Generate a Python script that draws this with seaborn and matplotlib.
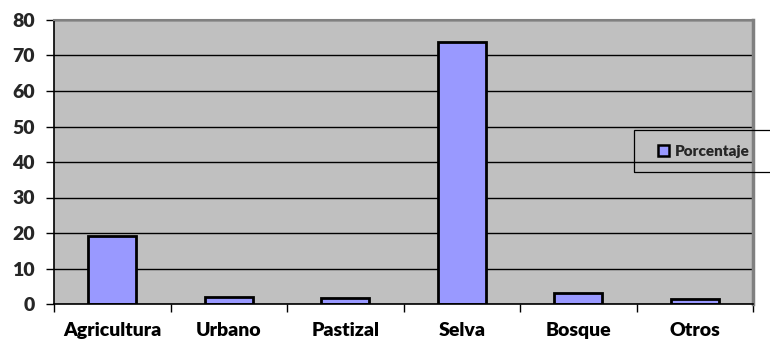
import matplotlib
matplotlib.use("Agg")
import matplotlib.pyplot as plt
from matplotlib.patches import Rectangle
import seaborn as sns
import pandas as pd
import numpy as np

categorias = ["Agricultura", "Urbano", "Pastizal", "Selva", "Bosque", "Otros"]
porcentaje = [19.1, 1.9, 1.6, 73.8, 3.0, 1.4]
ticks_y = [0, 10, 20, 30, 40, 50, 60, 70, 80]
serie = "Porcentaje"

df = pd.DataFrame({"categoria": categorias, "valor": porcentaje})

sns.set_theme(style="white")
plt.rcParams["font.family"] = ["Lato", "DejaVu Sans"]
plt.rcParams["font.weight"] = "bold"

W, H = 770, 342
fig = plt.figure(figsize=(W / 100, H / 100), dpi=100)
ax = fig.add_axes([54 / W, 1 - 304 / H, 699 / W, 284 / H])
ax.set_facecolor("#C0C0C0")

sns.barplot(data=df, x="categoria", y="valor", color="#9999FF",
            edgecolor="black", linewidth=2, width=0.41, saturation=1,
            label=serie, ax=ax)

ax.set_ylim(0, 80)
ax.set_xlim(-0.5, len(categorias) - 0.5)
ax.set_yticks(ticks_y)
ax.set_yticklabels([str(t) for t in ticks_y], fontsize=14, fontweight="heavy")
ax.set_xticks(range(len(categorias)))
ax.set_xticklabels(categorias, fontsize=14, fontweight="heavy")
ax.set_xticks(np.arange(-0.5, len(categorias), 1), minor=True)
ax.tick_params(axis="x", which="major", length=0, pad=13, colors="black")
ax.tick_params(axis="x", which="minor", length=6, width=1, direction="out", color="black", bottom=True)
ax.tick_params(axis="y", length=6, width=1, direction="out", color="black", left=True, pad=8)
ax.set_xlabel("")
ax.set_ylabel("")

ax.yaxis.grid(True, color="black", linewidth=1)
ax.set_axisbelow(True)

for side in ["left", "bottom"]:
    ax.spines[side].set_color("black")
    ax.spines[side].set_linewidth(1.2)
ax.spines["top"].set_color("#808080")
ax.spines["top"].set_linewidth(1.5)
ax.spines["right"].set_color("#808080")
ax.spines["right"].set_linewidth(2.5)

# legend box, running off the right edge of the figure
fig.patches.append(Rectangle((634 / W, 1 - 172 / H), 200 / W, 42 / H,
                             transform=fig.transFigure, fill=False,
                             edgecolor="black", linewidth=0.9, zorder=5))
leg = ax.legend(loc="center left",
                bbox_to_anchor=(658 / W, 1 - 151 / H),
                bbox_transform=fig.transFigure, borderaxespad=0,
                frameon=False, prop={"weight": "heavy", "size": 11},
                handlelength=0.7, handleheight=0.7, handletextpad=0.4,
                borderpad=0)
for h in leg.legend_handles:
    h.set_linewidth(1.8)

# nudge the legend so its swatch starts at the intended pixel column
fig.canvas.draw()
hx0 = leg.legend_handles[0].get_window_extent().x0
dx = 658 - hx0
leg.set_bbox_to_anchor(((658 + dx) / W, 1 - 151 / H), transform=fig.transFigure)

fig.savefig("out.png", dpi=100)
